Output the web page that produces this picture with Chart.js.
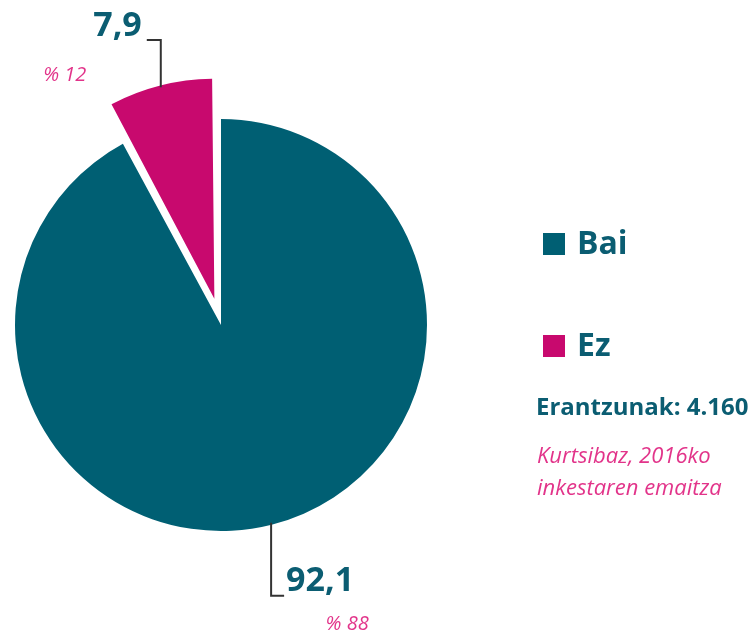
<!DOCTYPE html>
<html lang="eu">
<head>
<meta charset="utf-8">
<title>Bai / Ez</title>
<script src="https://cdn.jsdelivr.net/npm/chart.js@4.4.1/dist/chart.umd.min.js"></script>
<style>
  html, body { margin: 0; padding: 0; background: #fff; }
  #wrap { position: relative; width: 755px; height: 635px; }
</style>
</head>
<body>
<div id="wrap">
  <canvas id="pie" width="755" height="635"></canvas>
</div>
<script>
// data
const labels = ['Bai', 'Ez'];
const values = [92.1, 7.9];
const valueText = ['92,1', '7,9'];
const percentText = ['% 88', '% 12'];
const colors = ['#005f73', '#c8096e'];
const answersText = 'Erantzunak: 4.160';
const sourceText = ['Kurtsibaz, 2016ko', 'inkestaren emaitza'];

const TEAL_TEXT = '#0b5d72';
const PINK_TEXT = '#e2348a';
const FONT = '"Open Sans", "DejaVu Sans", sans-serif';

// same shift that chart.js applies to an arc with an offset
function arcShift(offset, circ) {
  const o = (offset || 0) / 4;
  return o + o * (1 - Math.sin(Math.min(Math.PI, circ)));
}

// labels with bent leader lines + legend on the right
const decorations = {
  id: 'decorations',
  afterDraw(chart) {
    const ctx = chart.ctx;
    const arcs = chart.getDatasetMeta(0).data;
    ctx.save();
    arcs.forEach(function (arc, i) {
      const p = arc.getProps(['x', 'y', 'startAngle', 'endAngle', 'outerRadius', 'circumference'], true);
      const mid = (p.startAngle + p.endAngle) / 2;
      const off = arcShift(arc.options.offset, p.circumference);
      const cx = p.x + Math.cos(mid) * off;
      const cy = p.y + Math.sin(mid) * off;
      const sx = cx + Math.cos(mid) * (p.outerRadius - 2);
      const sy = cy + Math.sin(mid) * (p.outerRadius - 2);
      const up = Math.sin(mid) < 0;
      const ey = up ? 40 : sy + 73;
      const ex = up ? sx - 14 : sx + 13;
      ctx.strokeStyle = '#333';
      ctx.lineWidth = 2;
      ctx.beginPath();
      ctx.moveTo(sx, sy);
      ctx.lineTo(sx, ey);
      ctx.lineTo(ex, ey);
      ctx.stroke();

      ctx.fillStyle = TEAL_TEXT;
      ctx.font = 'bold 34px ' + FONT;
      ctx.textBaseline = 'middle';
      ctx.textAlign = up ? 'right' : 'left';
      ctx.fillText(valueText[i], up ? ex - 5 : ex + 2, ey - 14);

      ctx.fillStyle = PINK_TEXT;
      ctx.font = 'italic 20px ' + FONT;
      ctx.textAlign = 'center';
      if (up) {
        ctx.fillText(percentText[i], ex - 82, ey + 35);
      } else {
        ctx.fillText(percentText[i], ex + 63, ey + 29);
      }
    });

    // legend
    const lx = 543;
    const rows = [244, 346];
    labels.forEach(function (lab, i) {
      ctx.fillStyle = colors[i];
      ctx.fillRect(lx, rows[i] - 11, 22, 22);
      ctx.fillStyle = TEAL_TEXT;
      ctx.font = 'bold 32px ' + FONT;
      ctx.textAlign = 'left';
      ctx.textBaseline = 'middle';
      ctx.fillText(lab, lx + 34, rows[i] + 1);
    });

    ctx.fillStyle = TEAL_TEXT;
    ctx.font = 'bold 24px ' + FONT;
    ctx.fillText(answersText, 536, 408);

    ctx.fillStyle = PINK_TEXT;
    ctx.font = 'italic 22px ' + FONT;
    ctx.fillText(sourceText[0], 537, 457);
    ctx.fillText(sourceText[1], 537, 489);
    ctx.restore();
  }
};

new Chart(document.getElementById('pie'), {
  type: 'pie',
  data: {
    labels: labels,
    datasets: [{
      data: values,
      backgroundColor: colors,
      borderWidth: 0,
      offset: [0, 108],
      hoverOffset: 0
    }]
  },
  options: {
    responsive: false,
    animation: false,
    radius: 206,
    layout: { padding: { left: 5, right: 318, top: 20, bottom: 5 } },
    plugins: {
      legend: { display: false },
      tooltip: { enabled: false }
    },
    events: []
  },
  plugins: [decorations]
});
</script>
</body>
</html>
